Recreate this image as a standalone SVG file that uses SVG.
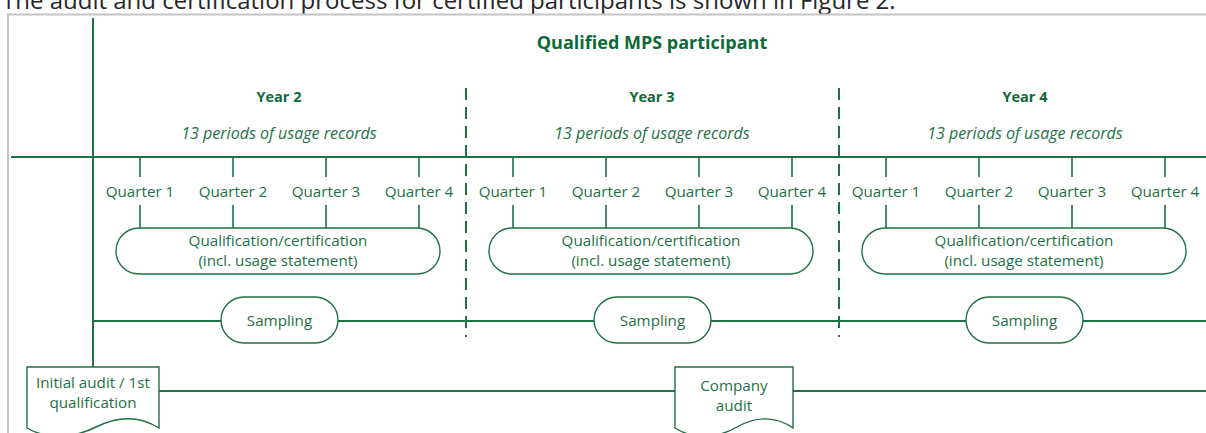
<svg xmlns="http://www.w3.org/2000/svg" width="1206" height="433" viewBox="0 0 1206 433">
  <style>
    .ln { stroke: #1e7145; stroke-width: 2; fill: none; }
    .tick { stroke: #1e7145; stroke-width: 1.6; fill: none; }
    .dash { stroke: #1e7145; stroke-width: 2; stroke-dasharray: 12 7; fill: none; }
    .box { stroke: #1e7145; stroke-width: 1.4; fill: #ffffff; }
    text { font-family: "Open Sans", "Noto Sans", "Liberation Sans", sans-serif; fill: #1e7145; }
    .t { font-size: 15.2px; text-anchor: middle; }
    .yr { font-size: 14.5px; font-weight: bold; text-anchor: middle; fill: #0d6a38; }
    .per { font-size: 16px; font-style: italic; text-anchor: middle; }
    .title { font-size: 18px; font-weight: bold; text-anchor: middle; fill: #0d6a38; }
    .intro { font-size: 24px; fill: #262626; }
  </style>

  <!-- introductory sentence above the frame -->
  <text class="intro" x="2" y="9">The audit and certification process for certified participants is shown in Figure 2.</text>

  <!-- frame -->
  <path d="M8,433 V14.5 H1206" stroke="#c4c4c4" stroke-width="2" fill="none"/>

  <!-- headings -->
  <g id="headings">
    <text class="title" x="652" y="49">Qualified MPS participant</text>
    <text class="yr" x="279" y="102">Year 2</text>
    <text class="yr" x="652" y="102">Year 3</text>
    <text class="yr" x="1025" y="102">Year 4</text>
    <text class="per" x="279" y="139">13 periods of usage records</text>
    <text class="per" x="652" y="139">13 periods of usage records</text>
    <text class="per" x="1025" y="139">13 periods of usage records</text>
  </g>

  <!-- connectors -->
  <g id="connectors">
    <line class="ln" x1="93" y1="18" x2="93" y2="367"/>
    <line class="ln" x1="11" y1="157" x2="1206" y2="157"/>
    <line class="ln" x1="93" y1="321" x2="1206" y2="321"/>
    <line class="ln" x1="159" y1="391" x2="675" y2="391"/>
    <line class="ln" x1="793" y1="391" x2="1206" y2="391"/>
    <line class="dash" x1="466" y1="88" x2="466" y2="337"/>
    <line class="dash" x1="839" y1="88" x2="839" y2="337"/>
    <!-- quarter ticks: upper to the timeline, lower to the certification boxes -->
    <path class="tick" d="M140,157V177M140,205V228 M233,157V177M233,205V228 M326,157V177M326,205V228 M419,157V177M419,205V228"/>
    <path class="tick" d="M513,157V177M513,205V228 M606,157V177M606,205V228 M699,157V177M699,205V228 M792,157V177M792,205V228"/>
    <path class="tick" d="M886,157V177M886,205V228 M979,157V177M979,205V228 M1072,157V177M1072,205V228 M1165,157V177M1165,205V228"/>
  </g>

  <!-- quarter labels -->
  <g id="quarters">
    <text class="t" x="140" y="197">Quarter 1</text>
    <text class="t" x="233" y="197">Quarter 2</text>
    <text class="t" x="326" y="197">Quarter 3</text>
    <text class="t" x="419" y="197">Quarter 4</text>
    <text class="t" x="513" y="197">Quarter 1</text>
    <text class="t" x="606" y="197">Quarter 2</text>
    <text class="t" x="699" y="197">Quarter 3</text>
    <text class="t" x="792" y="197">Quarter 4</text>
    <text class="t" x="886" y="197">Quarter 1</text>
    <text class="t" x="979" y="197">Quarter 2</text>
    <text class="t" x="1072" y="197">Quarter 3</text>
    <text class="t" x="1165" y="197">Quarter 4</text>
  </g>

  <!-- certification terminators -->
  <g id="cert-y2">
    <rect class="box" x="116" y="228" width="324" height="46" rx="23"/>
    <text class="t" x="278" y="246">Qualification/certification</text>
    <text class="t" x="278" y="266">(incl. usage statement)</text>
  </g>
  <g id="cert-y3">
    <rect class="box" x="489" y="228" width="324" height="46" rx="23"/>
    <text class="t" x="651" y="246">Qualification/certification</text>
    <text class="t" x="651" y="266">(incl. usage statement)</text>
  </g>
  <g id="cert-y4">
    <rect class="box" x="862" y="228" width="324" height="46" rx="23"/>
    <text class="t" x="1024" y="246">Qualification/certification</text>
    <text class="t" x="1024" y="266">(incl. usage statement)</text>
  </g>

  <!-- sampling terminators -->
  <g id="sampling-y2">
    <rect class="box" x="221" y="297" width="117" height="46" rx="23"/>
    <text class="t" x="279.5" y="326">Sampling</text>
  </g>
  <g id="sampling-y3">
    <rect class="box" x="594" y="297" width="117" height="46" rx="23"/>
    <text class="t" x="652.5" y="326">Sampling</text>
  </g>
  <g id="sampling-y4">
    <rect class="box" x="966" y="297" width="117" height="46" rx="23"/>
    <text class="t" x="1024.5" y="326">Sampling</text>
  </g>

  <!-- audit documents -->
  <g id="initial-audit">
    <path class="box" d="M27,367 H159 V428 C140,416 118,416 96,427 C74,438 48,440 27,428 Z"/>
    <text class="t" x="93" y="388">Initial audit / 1st</text>
    <text class="t" x="93" y="408">qualification</text>
  </g>
  <g id="company-audit">
    <path class="box" d="M675,367 H793 V428 C776,416 756,416 737,427 C718,438 694,440 675,428 Z"/>
    <text class="t" x="734" y="391">Company</text>
    <text class="t" x="734" y="411">audit</text>
  </g>
</svg>
